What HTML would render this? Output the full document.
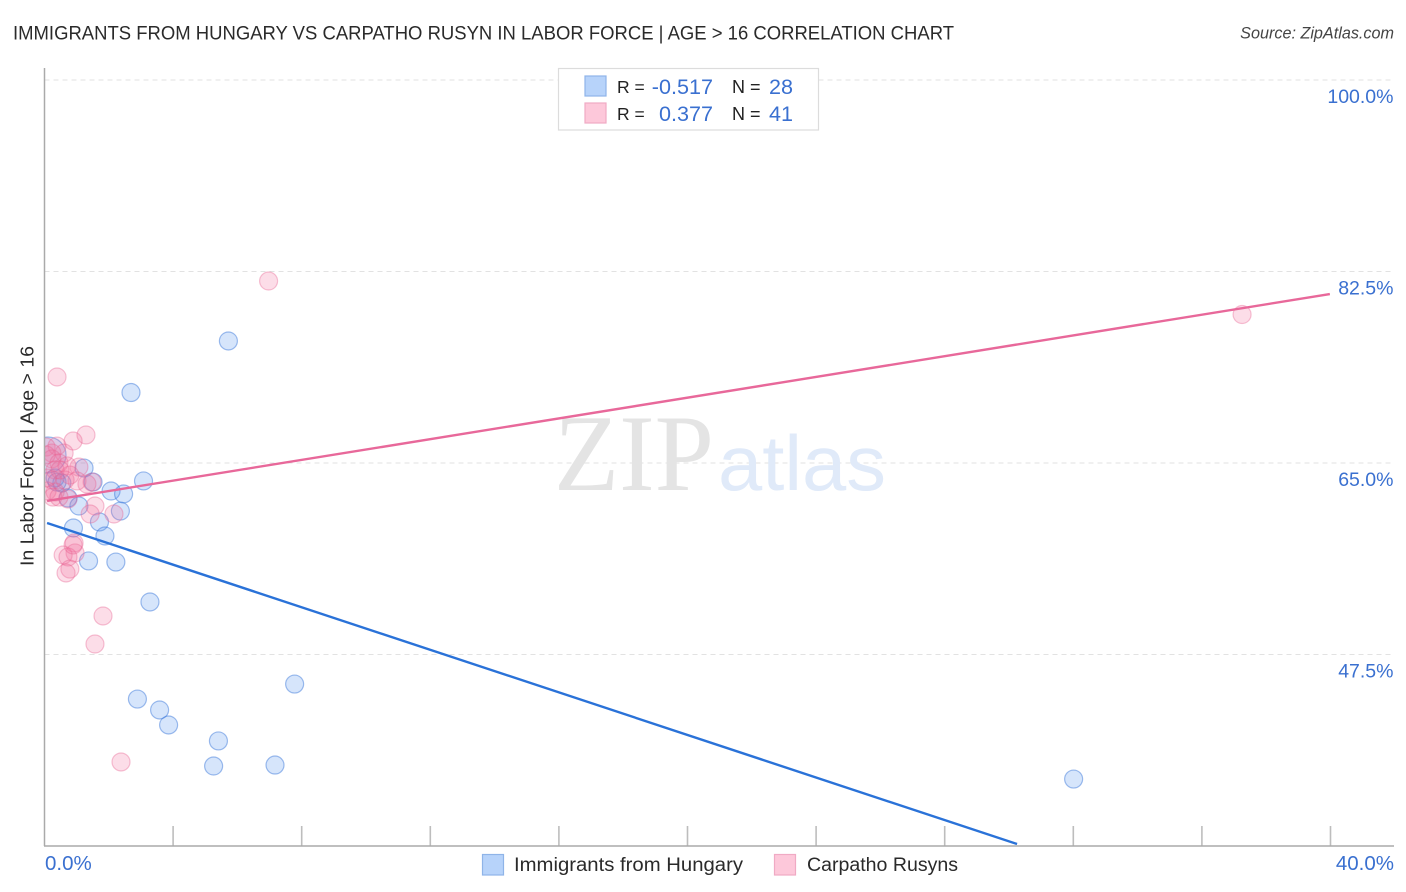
<!DOCTYPE html>
<html lang="en">
<head>
<meta charset="utf-8">
<title>Immigrants from Hungary vs Carpatho Rusyn in Labor Force</title>
<style>
html,body{margin:0;padding:0;background:#fff;}
svg{display:block;font-family:"Liberation Sans",sans-serif;}
</style>
</head>
<body>
<svg id="chart" width="1406" height="892" viewBox="0 0 1406 892" xmlns="http://www.w3.org/2000/svg">
  <defs>
    <clipPath id="plot-clip"><rect x="44.5" y="60" width="1350" height="786"></rect></clipPath>
  </defs>
  <rect x="0" y="0" width="1406" height="892" fill="#fff"></rect>
  <text x="13" y="39.5" font-size="19.5" fill="#2a2a2a" textLength="941" lengthAdjust="spacingAndGlyphs">IMMIGRANTS FROM HUNGARY VS CARPATHO RUSYN IN LABOR FORCE | AGE &gt; 16 CORRELATION CHART</text>
  <text x="1394" y="38.5" font-size="16.2" font-style="italic" fill="#444" text-anchor="end">Source: ZipAtlas.com</text>

  <g id="grid"></g>

  <g>
    <text x="554" y="490" font-family="'Liberation Serif',serif" font-size="109" fill="#e4e4e4" textLength="160" lengthAdjust="spacingAndGlyphs">ZIP</text>
    <text x="718" y="490" font-size="78" fill="#e0eaf9" textLength="168" lengthAdjust="spacingAndGlyphs">atlas</text>
  </g>

  <g id="marks" clip-path="url(#plot-clip)"></g>
  <g id="axes"></g>

  <text transform="translate(33.5,566) rotate(-90)" font-size="18.5" fill="#2a2a2a" textLength="220" lengthAdjust="spacingAndGlyphs">In Labor Force | Age &gt; 16</text>

  <g>
    <rect x="558.5" y="68.5" width="260" height="61.5" fill="#fff" stroke="#dcdcdc" stroke-width="1.2"></rect>
    <rect x="585" y="76" width="21" height="20" fill="#b7d3fa" stroke="#8fb4e8" stroke-width="1.2"></rect>
    <rect x="585" y="103" width="21" height="20" fill="#fdc8da" stroke="#f0aac4" stroke-width="1.2"></rect>
    <text x="617" y="93" font-size="17.5" fill="#222">R =</text>
    <text x="713" y="94" font-size="21.6" fill="#3a70d0" text-anchor="end">-0.517</text>
    <text x="732" y="93" font-size="18" fill="#222">N =</text>
    <text x="793" y="94" font-size="21.6" fill="#3a70d0" text-anchor="end">28</text>
    <text x="617" y="120" font-size="17.5" fill="#222">R =</text>
    <text x="713" y="121" font-size="21.6" fill="#3a70d0" text-anchor="end">0.377</text>
    <text x="732" y="120" font-size="18" fill="#222">N =</text>
    <text x="793" y="121" font-size="21.6" fill="#3a70d0" text-anchor="end">41</text>
  </g>

  <g>
    <rect x="482.5" y="854.5" width="21" height="20.5" fill="#b7d3fa" stroke="#8fb4e8" stroke-width="1.2"></rect>
    <text x="514" y="871" font-size="19" fill="#2a2a2a" textLength="229" lengthAdjust="spacingAndGlyphs">Immigrants from Hungary</text>
    <rect x="774.5" y="854.5" width="21" height="20.5" fill="#fdc8da" stroke="#f0aac4" stroke-width="1.2"></rect>
    <text x="807" y="871" font-size="19" fill="#2a2a2a" textLength="151" lengthAdjust="spacingAndGlyphs">Carpatho Rusyns</text>
  </g>
</svg>
<script>
var xTickValues = [0, 4, 8, 12, 16, 20, 24, 28, 32, 36, 40];
var xTickLabels = ["0.0%", "40.0%"];
var yTickValues = [100, 82.5, 65, 47.5];
var yTickLabels = ["100.0%", "82.5%", "65.0%", "47.5%"];

var hungaryX = [5.72, 2.69, 1.23, 3.08, 1.51, 2.07, 2.46, 0.73, 1.07, 2.36, 1.71, 0.90, 1.88, 1.37, 2.22, 3.28, 7.78, 2.89, 3.58, 3.86, 5.41, 5.26, 7.17, 32.01, 0.54, 0.33, 0.11, 0.39];
var hungaryY = [76.15, 71.44, 64.54, 63.36, 63.26, 62.44, 62.17, 61.80, 61.07, 60.61, 59.61, 59.06, 58.33, 56.05, 55.95, 52.30, 44.80, 43.43, 42.43, 41.06, 39.60, 37.31, 37.40, 36.12, 63.17, 63.63, 65.73, 63.26];
var hungaryWeight = [1, 1, 1, 1, 1, 1, 1, 1, 1, 1, 1, 1, 1, 1, 1, 1, 1, 1, 1, 1, 1, 1, 1, 1, 1, 1, 2, 1];

var rusynX = [6.97, 37.25, 0.39, 1.29, 0.89, 0.39, 0.05, 0.61, 0.23, 0.05, 0.23, 0.45, 1.07, 0.70, 0.33, 0.79, 1.48, 1.32, 1.01, 0.23, 0.64, 0.33, 0.08, 0.26, 0.73, 0.45, 1.57, 1.42, 2.16, 0.92, 0.95, 0.58, 0.73, 0.79, 0.67, 1.82, 1.57, 2.38, 0.48, 0.08, 0.89];
var rusynY = [81.63, 78.57, 72.86, 67.56, 67.01, 66.55, 66.46, 65.91, 65.91, 65.73, 65.37, 65.00, 64.63, 64.73, 64.36, 63.90, 63.26, 63.08, 63.36, 63.45, 63.45, 62.35, 62.44, 61.89, 61.71, 61.89, 61.07, 60.34, 60.34, 57.69, 56.78, 56.59, 56.41, 55.31, 54.95, 51.02, 48.46, 37.68, 64.36, 63.63, 57.51];

var hungaryTrendX = [0.08, 30.25];
var hungaryTrendY = [59.52, 30.18];
var rusynTrendX = [0.08, 39.98];
var rusynTrendY = [61.53, 80.44];

var NS = "http://www.w3.org/2000/svg";
function sx(v) { return 44.5 + v * 32.15; }
function sy(v) { return 80 + (100 - v) * 10.943; }
function make(tag, parent, attrs) {
  var el = document.createElementNS(NS, tag);
  for (var k in attrs) { el.setAttribute(k, attrs[k]); }
  parent.appendChild(el);
  return el;
}

var grid = document.getElementById("grid");
var axes = document.getElementById("axes");
var marks = document.getElementById("marks");

yTickValues.forEach(function (v, i) {
  var line = make("line", grid, { x1: 44.5, x2: 1393, y1: sy(v), y2: sy(v), stroke: "#e2e2e2", "stroke-width": 1, "stroke-dasharray": "5 4" });
  
  
  var label = make("text", axes, { x: 1393.5, y: sy(v) + 23, "font-size": 19.5, fill: "#3a70d0", "text-anchor": "end" });
  label.textContent = yTickLabels[i];
  
  
});

xTickValues.forEach(function (v) {
  if (v === 0) { return; }
  var tick = make("line", axes, { x1: sx(v), x2: sx(v), y1: 826, y2: 846, stroke: "#bdbdbd", "stroke-width": 1.6 });
  
  
});

var yAxis = make("line", axes, { x1: 44.5, x2: 44.5, y1: 68, y2: 846, stroke: "#aaaaaa", "stroke-width": 1.5 });


var xAxis = make("line", axes, { x1: 44, x2: 1394, y1: 846, y2: 846, stroke: "#aaaaaa", "stroke-width": 1.5 });



var xMin = make("text", axes, { x: 45, y: 870, "font-size": 20.5, fill: "#3a70d0" });
xMin.textContent = xTickLabels[0];


var xMax = make("text", axes, { x: 1394, y: 870, "font-size": 20.5, fill: "#3a70d0", "text-anchor": "end" });
xMax.textContent = xTickLabels[1];



hungaryX.forEach(function (v, i) {
  var c = make("circle", marks, { cx: sx(v), cy: sy(hungaryY[i]), r: 9 * hungaryWeight[i], fill: "rgba(84,148,240,0.24)", stroke: "rgba(47,111,214,0.45)", "stroke-width": 1.2 });
  
  
});
rusynX.forEach(function (v, i) {
  var c = make("circle", marks, { cx: sx(v), cy: sy(rusynY[i]), r: 9, fill: "rgba(244,114,160,0.24)", stroke: "rgba(232,96,145,0.38)", "stroke-width": 1.2 });
  
  
});

var blueTrend = make("line", marks, { x1: sx(hungaryTrendX[0]), y1: sy(hungaryTrendY[0]), x2: sx(hungaryTrendX[1]), y2: sy(hungaryTrendY[1]), stroke: "#2a72d8", "stroke-width": 2.4 });


var pinkTrend = make("line", marks, { x1: sx(rusynTrendX[0]), y1: sy(rusynTrendY[0]), x2: sx(rusynTrendX[1]), y2: sy(rusynTrendY[1]), stroke: "#e8689a", "stroke-width": 2.4 });


</script>
</body>
</html>
